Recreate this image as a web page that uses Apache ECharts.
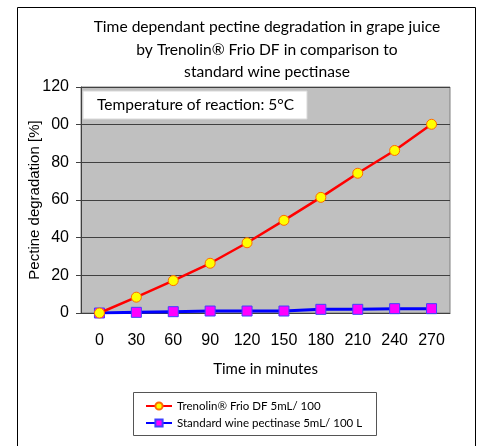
<!DOCTYPE html>
<html><head><meta charset="utf-8">
<script src="https://cdn.jsdelivr.net/npm/echarts@6/dist/echarts.min.js"></script>
<style>html,body{margin:0;padding:0;background:#fff}#c{width:481px;height:446px}</style>
</head><body><div id="c"></div>
<script>
const categories = ['0','30','60','90','120','150','180','210','240','270'];
const trenolin = [0, 8.4, 17.2, 26.4, 37.3, 49.2, 61.4, 74.2, 86.3, 100.2];
const standard = [0, 0.35, 0.7, 1.05, 1.05, 1.05, 1.95, 1.95, 2.3, 2.3];
const yTickLabels = {0:'0',20:'20',40:'40',60:'60',80:'80',100:'00',120:'120'};
const titleLines = ['Time dependant pectine degradation in grape juice','by Trenolin\u00ae Frio DF in comparison to','standard wine pectinase'];
const seriesNames = ['Trenolin\u00ae Frio DF 5mL/ 100','Standard wine pectinase 5mL/ 100 L'];
const annotation = 'Temperature of reaction: 5\u00b0C';

const chart = echarts.init(document.getElementById('c'), null, {renderer:'canvas'});
const calib = 'Lato, "Open Sans", sans-serif';
chart.setOption({
  animation:false,
  backgroundColor:'#fff',
  title:{text:titleLines.join('\n'), left:262, top:11, textAlign:'center',
    textStyle:{fontFamily:calib, fontSize:15.6, fontWeight:'normal', color:'#000', lineHeight:22.5}},
  grid:{left:81, right:31, top:87, bottom:133, show:true, backgroundColor:'#c0c0c0', borderColor:'#808080', borderWidth:1},
  xAxis:{type:'category', data:categories, boundaryGap:true,
    name:'Time in minutes', nameLocation:'middle', nameGap:49,
    nameTextStyle:{fontFamily:calib, fontSize:15, color:'#000'},
    axisLine:{lineStyle:{color:'#404040', width:1}}, axisTick:{show:false},
    axisLabel:{fontFamily:'"Liberation Sans", Arial', fontSize:16, color:'#000', margin:20}},
  yAxis:{type:'value', min:0, max:120, interval:20,
    name:'Pectine degradation [%]', nameLocation:'middle', nameGap:39, nameMoveOverlap:false,
    nameTextStyle:{fontFamily:'"Liberation Sans", Arial', fontSize:15, color:'#000'},
    axisLine:{show:true, lineStyle:{color:'#404040'}}, axisTick:{show:true, length:5, lineStyle:{color:'#404040'}},
    axisLabel:{fontFamily:'"Liberation Sans", Arial', fontSize:16, color:'#000', margin:12,
      formatter:v=>yTickLabels[v]},
    splitLine:{lineStyle:{color:'#404040', width:1}}},
  legend:{orient:'vertical', left:140, top:395, itemGap:5, itemWidth:26, itemHeight:9,
    backgroundColor:'transparent', borderWidth:0,
    textStyle:{fontFamily:calib, fontSize:11.5, color:'#000'}},
  graphic:[
    {type:'rect', shape:{x:17.5, y:7.5, width:458, height:460}, style:{fill:null, stroke:'#000', lineWidth:1}, silent:true},
    {type:'rect', shape:{x:133.5, y:392.5, width:243, height:43}, style:{fill:null, stroke:'#555', lineWidth:1}, silent:true},
    {type:'rect', shape:{x:83, y:91, width:224, height:28}, style:{fill:'#fff', stroke:'#d8d8d8', lineWidth:1}, silent:true, z:10},
    {type:'text', x:97, y:105, style:{text:annotation, fontFamily:calib, fontSize:15.5, fill:'#000', verticalAlign:'middle'}, z:11}
  ],
  series:[
    {name:seriesNames[0], type:'line', data:trenolin, symbol:'circle', symbolSize:10,
      lineStyle:{color:'#ff0000', width:2.5}, itemStyle:{color:'#ffff00', borderColor:'#ff6a00', borderWidth:1}, z:5},
    {name:seriesNames[1], type:'line', data:standard, symbol:'rect', symbolSize:10,
      lineStyle:{color:'#0000ff', width:3}, itemStyle:{color:'#ff00ff', borderColor:'#4040ff', borderWidth:1}, z:4}
  ]
});
</script></body></html>
